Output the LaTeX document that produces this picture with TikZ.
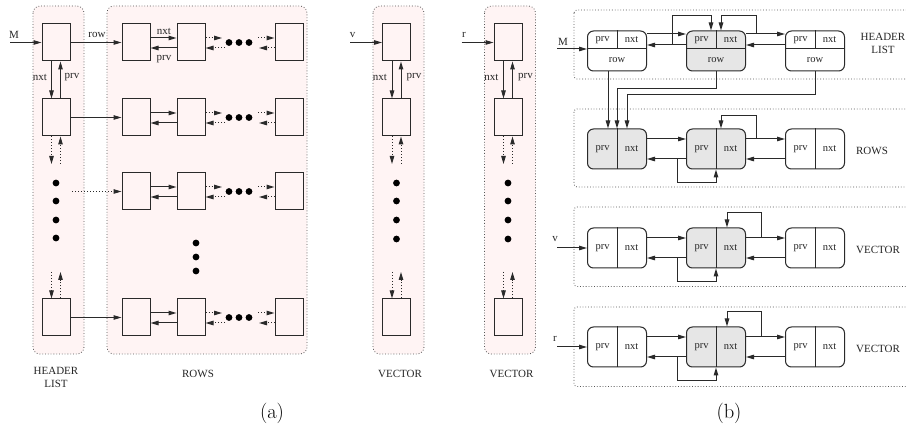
\documentclass[tikz,border=0pt]{standalone}
\usepackage{fontspec}
\setmainfont{Liberation Serif}
\newfontfamily\capfont{Latin Modern Roman}
\usetikzlibrary{arrows.meta}
\definecolor{ink}{HTML}{2A2A2A}
\definecolor{pinkbg}{HTML}{FFF4F4}
\definecolor{cellgray}{HTML}{E6E6E6}
\definecolor{dotline}{HTML}{555555}

\tikzset{
  link/.style={draw=ink, line width=1pt, -{Triangle[length=8pt,width=4.5pt]}},
  dlink/.style={link, dotted},
  plain/.style={draw=ink, line width=1pt},
  group/.style={draw=dotline, dotted, line width=0.8pt, fill=pinkbg, rounded corners=7pt},
  bgroup/.style={draw=dotline, dotted, line width=0.8pt, rounded corners=3pt},
  cell/.style={draw=ink, fill=pinkbg, line width=1pt, minimum width=28pt,
    minimum height=37pt, inner sep=0pt},
  rec/.style={draw=ink, line width=1pt, rounded corners=6pt, minimum width=59pt,
    minimum height=40pt, inner sep=0pt},
  lbl/.style={font=\fontsize{11}{13}\selectfont, text=black!85, inner sep=0pt},
  slbl/.style={font=\fontsize{10.5}{12}\selectfont, text=black!85, inner sep=0pt},
  sublabel/.style={font=\capfont\fontsize{20.5}{22}\selectfont, inner sep=0pt},
  blob/.style={circle, fill=black, inner sep=0pt, minimum size=6.8pt},
}

\begin{document}
\begin{tikzpicture}[x=1pt,y=-1pt]
\path[use as bounding box] (0,0) rectangle (906,427);
\fill[white] (0,0) rectangle (906,427);

% ---------------- (a) header list and rows ----------------
\draw[group] (33,6) rectangle (84,354);
\draw[group] (107,6) rectangle (307,354);

\node[cell] (h1) at (56,42.5) {};
\node[cell] (h2) at (56,117.5) {};
\node[cell] (h4) at (56,317.5) {};

\foreach \r/\y in {1/42.5,2/117.5,3/191.5,4/317.5}{
  \node[cell] (r\r-a) at (136,\y) {};
  \node[cell] (r\r-b) at (191,\y) {};
  \node[cell] (r\r-c) at (289,\y) {};
  \draw[link] ([yshift=4.5pt]r\r-a.east) -- ([yshift=4.5pt]r\r-b.west);
  \draw[link] ([yshift=-5.5pt]r\r-b.west) -- ([yshift=-5.5pt]r\r-a.east);
  \coordinate (r\r-u1) at (222,\y-4.5);
  \coordinate (r\r-l1) at (225,\y+5.5);
  \coordinate (r\r-u2) at (258,\y-4.5);
  \coordinate (r\r-l2) at (259,\y+5.5);
  \draw[dlink] ([yshift=4.5pt]r\r-b.east) -- (r\r-u1);
  \draw[dlink] (r\r-l1) -- ([yshift=-5.5pt]r\r-b.east);
  \draw[dlink] (r\r-u2) -- ([yshift=4.5pt]r\r-c.west);
  \draw[dlink] ([yshift=-5.5pt]r\r-c.west) -- (r\r-l2);
  \node[blob] (r\r-d1) at (229,\y) {};
  \node[blob] (r\r-d2) at (239,\y) {};
  \node[blob] (r\r-d3) at (249,\y) {};
}
\node[lbl] (lnxt) at (164,31) {nxt};
\node[lbl] (lprv) at (164,59) {prv};

% header links
\coordinate (Min) at (10,42.5);
\draw[link] (Min) -- (h1.west);
\node[lbl] (lM) at (14,35) {M};
\draw[link] (h1.east) -- (r1-a.west);
\node[lbl] (lrow) at (97,35) {row};
\draw[link] (h2.east) -- (r2-a.west);
\coordinate (h3) at (72,191.5);
\draw[dlink] (h3) -- (r3-a.west);
\draw[link] (h4.east) -- (r4-a.west);

\draw[link] ([xshift=-4.5pt]h1.south) -- ([xshift=-4.5pt]h2.north);
\draw[link] ([xshift=4.5pt]h2.north) -- ([xshift=4.5pt]h1.south);
\node[lbl] (hnxt) at (40,77) {nxt};
\node[lbl] (hprv) at (72,77) {prv};
\coordinate (hdn1) at (51.5,164);
\coordinate (hup1) at (60.5,164);
\draw[dlink] ([xshift=-4.5pt]h2.south) -- (hdn1);
\draw[dlink] (hup1) -- ([xshift=4.5pt]h2.south);
\foreach \y [count=\j] in {183,201,220,238}{ \node[blob] (hd\j) at (56,\y) {}; }
\coordinate (hdn2) at (51.5,272);
\coordinate (hup2) at (60.5,272);
\draw[dlink] (hdn2) -- ([xshift=-4.5pt]h4.north);
\draw[dlink] ([xshift=4.5pt]h4.north) -- (hup2);

\foreach \y [count=\j] in {243,257,271}{ \node[blob] (rd\j) at (196,\y) {}; }

\node[lbl, align=center] (lhead) at (56,377.5) {HEADER\\LIST};
\node[lbl] (lrows) at (198,374) {ROWS};
\node[sublabel] (capa) at (272,413) {(a)};

% ---------------- (a) vectors v and r ----------------
\foreach \k/\cx/\nm in {1/396.5/v, 2/508/r}{
  \draw[group] (\cx-23.5,6) rectangle (\cx+27.5,354);
  \node[cell] (v\k-1) at (\cx,42.5) {};
  \node[cell] (v\k-2) at (\cx,117.5) {};
  \node[cell] (v\k-4) at (\cx,317.5) {};
  \coordinate (v\k-in) at (\cx-46.5,42.5);
  \draw[link] (v\k-in) -- (v\k-1.west);
  \node[lbl] (v\k-name) at (\cx-44,35) {\nm};
  \draw[link] ([xshift=-4.5pt]v\k-1.south) -- ([xshift=-4.5pt]v\k-2.north);
  \draw[link] ([xshift=4.5pt]v\k-2.north) -- ([xshift=4.5pt]v\k-1.south);
  \node[lbl] (v\k-nxt) at (\cx-16.5,77) {nxt};
  \node[lbl] (v\k-prv) at (\cx+17.5,77) {prv};
  \coordinate (v\k-dn1) at (\cx-4.5,164);
  \coordinate (v\k-up1) at (\cx+4.5,164);
  \draw[dlink] ([xshift=-4.5pt]v\k-2.south) -- (v\k-dn1);
  \draw[dlink] (v\k-up1) -- ([xshift=4.5pt]v\k-2.south);
  \foreach \y [count=\j] in {183,201,220,239}{ \node[blob] (v\k-d\j) at (\cx,\y) {}; }
  \coordinate (v\k-dn2) at (\cx-4.5,272);
  \coordinate (v\k-up2) at (\cx+4.5,272);
  \draw[dlink] (v\k-dn2) -- ([xshift=-4.5pt]v\k-4.north);
  \draw[dlink] ([xshift=4.5pt]v\k-4.north) -- (v\k-up2);
  \node[lbl] (v\k-lab) at (\cx+3.5,374) {VECTOR};
}

% ---------------- (b) header list ----------------
\draw[bgroup] (574,10) rectangle (920,79);
\foreach \i/\cx/\f in {1/617/white, 2/716/cellgray, 3/815/white}{
  \node[rec, fill=\f] (hb\i) at (\cx,51) {};
  \draw[plain] (hb\i.west |- 0,49) -- (hb\i.east |- 0,49);
  \draw[plain] (hb\i.north) -- (hb\i.center |- 0,49);
  \node[slbl] (hb\i-p) at (\cx-14.5,40) {prv};
  \node[slbl] (hb\i-n) at (\cx+14.5,40) {nxt};
  \node[slbl] (hb\i-r) at (\cx,60) {row};
}
\coordinate (Mb) at (557,49);
\draw[link] (Mb) -- (hb1.west |- Mb);
\node[lbl] (lMb) at (563,42) {M};
\draw[link] (hb1.east |- 0,34) -- (hb2.west |- 0,34);
\draw[link] (hb2.west |- 0,45) -- (hb1.east |- 0,45);
\draw[link] (hb2.east |- 0,34) -- (hb3.west |- 0,34);
\draw[link] (hb3.west |- 0,45) -- (hb2.east |- 0,45);
\coordinate (hl1) at (672,45);
\coordinate (hl2) at (756,34);
\draw[link] (hl1) |- (711,16) -- (hb2.north -| 711,0);
\draw[link] (hl2) |- (721,16) -- (hb2.north -| 721,0);
\node[lbl, align=center] (lhb) at (883,43) {HEADER\\LIST};

% ---------------- (b) rows ----------------
\draw[bgroup] (574,109) rectangle (920,187);
\foreach \i/\cx/\f in {1/617/cellgray, 2/716/cellgray, 3/815/white}{
  \node[rec, fill=\f] (rb\i) at (\cx,149) {};
  \draw[plain] (rb\i.north) -- (rb\i.south);
  \node[slbl] (rb\i-p) at (\cx-14.5,149) {prv};
  \node[slbl] (rb\i-n) at (\cx+14.5,149) {nxt};
}
\draw[link] (hb1.south -| 608,0) -- (rb1.north -| 608,0);
\draw[link] (hb2.south) |- (617,89) -- (rb1.north -| 617,0);
\draw[link] (hb3.south) |- (627,95) -- (rb1.north -| 627,0);
\draw[link] (rb1.east |- 0,139) -- (rb2.west |- 0,139);
\draw[link] (rb2.west |- 0,159) -- (rb1.east |- 0,159);
\draw[link] (rb2.east |- 0,139) -- (rb3.west |- 0,139);
\draw[link] (rb3.west |- 0,159) -- (rb2.east |- 0,159);
\coordinate (rl1) at (756,139);
\coordinate (rl2) at (677,159);
\draw[link] (rl1) |- (721,116) -- (rb2.north -| 721,0);
\draw[link] (rl2) |- (716,183) -- (rb2.south);
\node[lbl] (lrb) at (872,151) {ROWS};

% ---------------- (b) vectors ----------------
\foreach \k/\cy/\tp/\nm in {1/248/207/v, 2/347/307/r}{
  \draw[bgroup] (574,\tp) rectangle (920,\tp+79.5);
  \foreach \i/\cx/\f in {1/617/white, 2/716/cellgray, 3/815/white}{
    \node[rec, fill=\f] (vb\k-\i) at (\cx,\cy) {};
    \draw[plain] (vb\k-\i.north) -- (vb\k-\i.south);
    \node[slbl] (vb\k-\i-p) at (\cx-14.5,\cy) {prv};
    \node[slbl] (vb\k-\i-n) at (\cx+14.5,\cy) {nxt};
  }
  \coordinate (vb\k-in) at (557,\cy);
  \draw[link] (vb\k-in) -- (vb\k-1.west);
  \node[lbl] (vb\k-name) at (555,\cy-8.5) {\nm};
  \draw[link] (vb\k-1.east |- 0,\cy-10) -- (vb\k-2.west |- 0,\cy-10);
  \draw[link] (vb\k-2.west |- 0,\cy+10) -- (vb\k-1.east |- 0,\cy+10);
  \draw[link] (vb\k-2.east |- 0,\cy-10) -- (vb\k-3.west |- 0,\cy-10);
  \draw[link] (vb\k-3.west |- 0,\cy+10) -- (vb\k-2.east |- 0,\cy+10);
  \coordinate (vb\k-l1) at (761,\cy-10);
  \coordinate (vb\k-l2) at (677,\cy+10);
  \draw[link] (vb\k-l1) |- (727,\cy-35) -- (vb\k-2.north -| 727,0);
  \draw[link] (vb\k-l2) |- (716,\cy+34) -- (vb\k-2.south);
  \node[lbl] (vb\k-lab) at (878,\cy+1.5) {VECTOR};
}
\node[sublabel] (capb) at (729,413) {(b)};
\end{tikzpicture}
\end{document}
